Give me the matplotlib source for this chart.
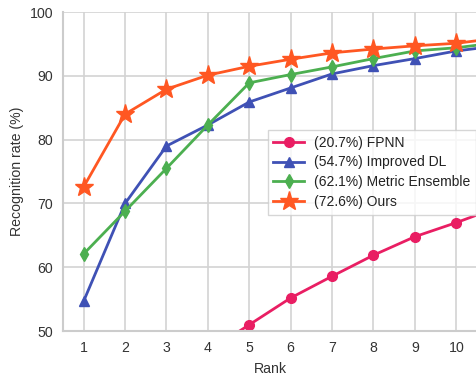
import matplotlib
matplotlib.use("Agg")
import matplotlib.pyplot as plt

plt.rcParams['font.family'] = ['Liberation Sans', 'DejaVu Sans']

ranks = [1, 2, 3, 4, 5, 6, 7, 8, 9, 10, 11]
fpnn_ranks = [4, 5, 6, 7, 8, 9, 10, 11]
fpnn = [46.8, 51.0, 55.2, 58.6, 61.9, 64.8, 67.0, 69.4]
improved_dl = [54.7, 70.0, 79.0, 82.3, 85.9, 88.1, 90.3, 91.6, 92.7, 93.9, 94.7]
metric_ens = [62.1, 68.8, 75.5, 82.3, 88.9, 90.2, 91.4, 92.7, 93.9, 94.4, 95.2]
ours = [72.6, 84.0, 87.9, 90.1, 91.5, 92.6, 93.6, 94.2, 94.7, 95.1, 95.9]
labels = ["(20.7%) FPNN", "(54.7%) Improved DL", "(62.1%) Metric Ensemble", "(72.6%) Ours"]
xticks = [1, 2, 3, 4, 5, 6, 7, 8, 9, 10]
yticks = [50, 60, 70, 80, 90, 100]

fig = plt.figure(figsize=(4.77, 3.75), dpi=100)
ax = fig.add_axes([0.132, 0.117, 0.868, 0.851])

ax.plot(fpnn_ranks, fpnn, color='#E91E63', marker='o', ms=7, lw=2, label=labels[0])
ax.plot(ranks, improved_dl, color='#3F51B5', marker='^', ms=7, lw=2, label=labels[1])
ax.plot(ranks, metric_ens, color='#4CAF50', marker='d', ms=7, lw=2, label=labels[2])
ax.plot(ranks, ours, color='#FF5722', marker='*', ms=14, lw=2, label=labels[3])

ax.set_xlim(0.5, 10.5)
ax.set_ylim(50, 100)
ax.set_xticks(xticks)
ax.set_yticks(yticks)
ax.grid(True, color='#d3d3d3', lw=1.2)
ax.set_axisbelow(True)
for s in ['top', 'right']:
    ax.spines[s].set_visible(False)
for s in ['left', 'bottom']:
    ax.spines[s].set_color('#cccccc')
    ax.spines[s].set_linewidth(1.5)
ax.tick_params(length=0, labelsize=10.2, colors='#333333', pad=7)
ax.set_xlabel("Rank", fontsize=10.2, color='#333333', labelpad=5)
ax.set_ylabel("Recognition rate (%)", fontsize=10.2, color='#333333', labelpad=4)

leg = ax.legend(loc='upper left', bbox_to_anchor=(0.495, 0.63), fontsize=10,
                frameon=True, fancybox=False, handlelength=2.2, borderpad=0.4,
                labelspacing=0.42, handletextpad=0.7, borderaxespad=0)
leg.get_frame().set_edgecolor('#cccccc')
leg.get_frame().set_linewidth(1.0)
for t in leg.get_texts():
    t.set_color('#222222')

fig.savefig("out.png", dpi=100)
